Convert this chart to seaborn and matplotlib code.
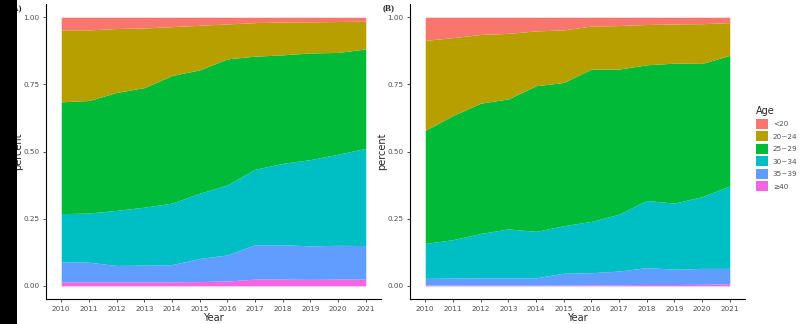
import pandas as pd
import seaborn as sns
from matplotlib import pyplot as plt
from matplotlib.patches import Patch, Rectangle

years = list(range(2010, 2022))
age_groups = ["<20", "20~24", "25~29", "30~34", "35~39", "\u226540"]
palette = ["#F8766D", "#B79F00", "#00BA38", "#00BFC4", "#619CFF", "#F564E3"]

# panel (A) shares per age group
a_lt20 = [0.047, 0.047, 0.042, 0.040, 0.035, 0.030, 0.025, 0.020, 0.018, 0.017, 0.016, 0.015]
a_20_24 = [0.268, 0.263, 0.238, 0.222, 0.182, 0.166, 0.130, 0.125, 0.122, 0.116, 0.115, 0.103]
a_25_29 = [0.416, 0.419, 0.439, 0.445, 0.475, 0.459, 0.469, 0.421, 0.404, 0.397, 0.379, 0.370]
a_30_34 = [0.179, 0.183, 0.205, 0.216, 0.229, 0.243, 0.261, 0.281, 0.303, 0.321, 0.339, 0.362]
a_35_39 = [0.075, 0.073, 0.061, 0.062, 0.064, 0.086, 0.097, 0.128, 0.128, 0.125, 0.126, 0.125]
a_ge40 = [0.015, 0.015, 0.015, 0.015, 0.015, 0.016, 0.018, 0.025, 0.025, 0.024, 0.025, 0.025]

# panel (B) shares per age group
b_lt20 = [0.086, 0.076, 0.064, 0.060, 0.051, 0.047, 0.033, 0.031, 0.027, 0.025, 0.024, 0.020]
b_20_24 = [0.335, 0.290, 0.256, 0.244, 0.204, 0.196, 0.160, 0.162, 0.150, 0.146, 0.148, 0.122]
b_25_29 = [0.421, 0.462, 0.485, 0.484, 0.542, 0.533, 0.567, 0.540, 0.505, 0.521, 0.496, 0.486]
b_30_34 = [0.130, 0.143, 0.165, 0.182, 0.173, 0.177, 0.191, 0.212, 0.250, 0.246, 0.267, 0.307]
b_35_39 = [0.025, 0.026, 0.027, 0.027, 0.027, 0.044, 0.045, 0.051, 0.063, 0.057, 0.059, 0.057]
b_ge40 = [0.003, 0.003, 0.003, 0.003, 0.003, 0.003, 0.004, 0.004, 0.005, 0.005, 0.006, 0.008]

df_a = pd.DataFrame(dict(zip(age_groups, [a_lt20, a_20_24, a_25_29, a_30_34, a_35_39, a_ge40])), index=years)
df_b = pd.DataFrame(dict(zip(age_groups, [b_lt20, b_20_24, b_25_29, b_30_34, b_35_39, b_ge40])), index=years)

sns.set_theme(style="ticks")
plt.rcParams["font.family"] = ["DejaVu Sans"]

fig = plt.figure(figsize=(8, 3.24), dpi=100)
ax_a = fig.add_axes([46 / 800, 24.7 / 324, 335 / 800, 295.5 / 324])
ax_b = fig.add_axes([410 / 800, 24.7 / 324, 335 / 800, 295.5 / 324])


def draw_panel(ax, df):
    # stack from oldest group at the bottom up to <20 on top
    cols = df.columns[::-1]
    ax.stackplot(df.index, [df[c].values for c in cols],
                 colors=palette[::-1], linewidth=0)
    ax.set_xlim(2009.45, 2021.55)
    ax.set_ylim(-0.05, 1.05)
    ax.set_xticks(years)
    ax.set_yticks([0, 0.25, 0.5, 0.75, 1.0])
    ax.set_yticklabels(["0.00", "0.25", "0.50", "0.75", "1.00"])
    ax.tick_params(axis="both", labelsize=5.2, labelcolor="#4d4d4d",
                   length=2.5, width=0.6, color="#333333", pad=2)
    ax.set_xlabel("Year", fontsize=7, labelpad=1)
    ax.set_ylabel("percent", fontsize=7)
    ax.yaxis.set_label_coords(-0.068, 0.5)
    sns.despine(ax=ax)
    for s in ("left", "bottom"):
        ax.spines[s].set_linewidth(0.8)
        ax.spines[s].set_color("black")


draw_panel(ax_a, df_a)
draw_panel(ax_b, df_b)

fig.text(10 / 800, 1 - 8 / 324, "(A)", fontsize=6.5, fontweight="bold",
         family="Liberation Serif", va="center")
fig.text(383 / 800, 1 - 8 / 324, "(B)", fontsize=6.5, fontweight="bold",
         family="Liberation Serif", va="center")

# black strip on the left edge
fig.patches.append(Rectangle((0, 0), 16.5 / 800, 1, transform=fig.transFigure,
                             facecolor="black", edgecolor="none", zorder=10))

handles = [Patch(facecolor=c, edgecolor="none") for c in palette]
leg = fig.legend(handles, age_groups, title="Age", loc="upper left",
                 bbox_to_anchor=(754 / 800, 1 - 104 / 324), frameon=False,
                 fontsize=5.2, title_fontsize=7, handlelength=1.7,
                 handleheight=1.7, handletextpad=0.6, labelspacing=0.38,
                 borderaxespad=0, borderpad=0.3)
leg._legend_box.align = "left"
for t in leg.get_texts():
    t.set_color("#4d4d4d")

fig.savefig("out.png", dpi=100)
